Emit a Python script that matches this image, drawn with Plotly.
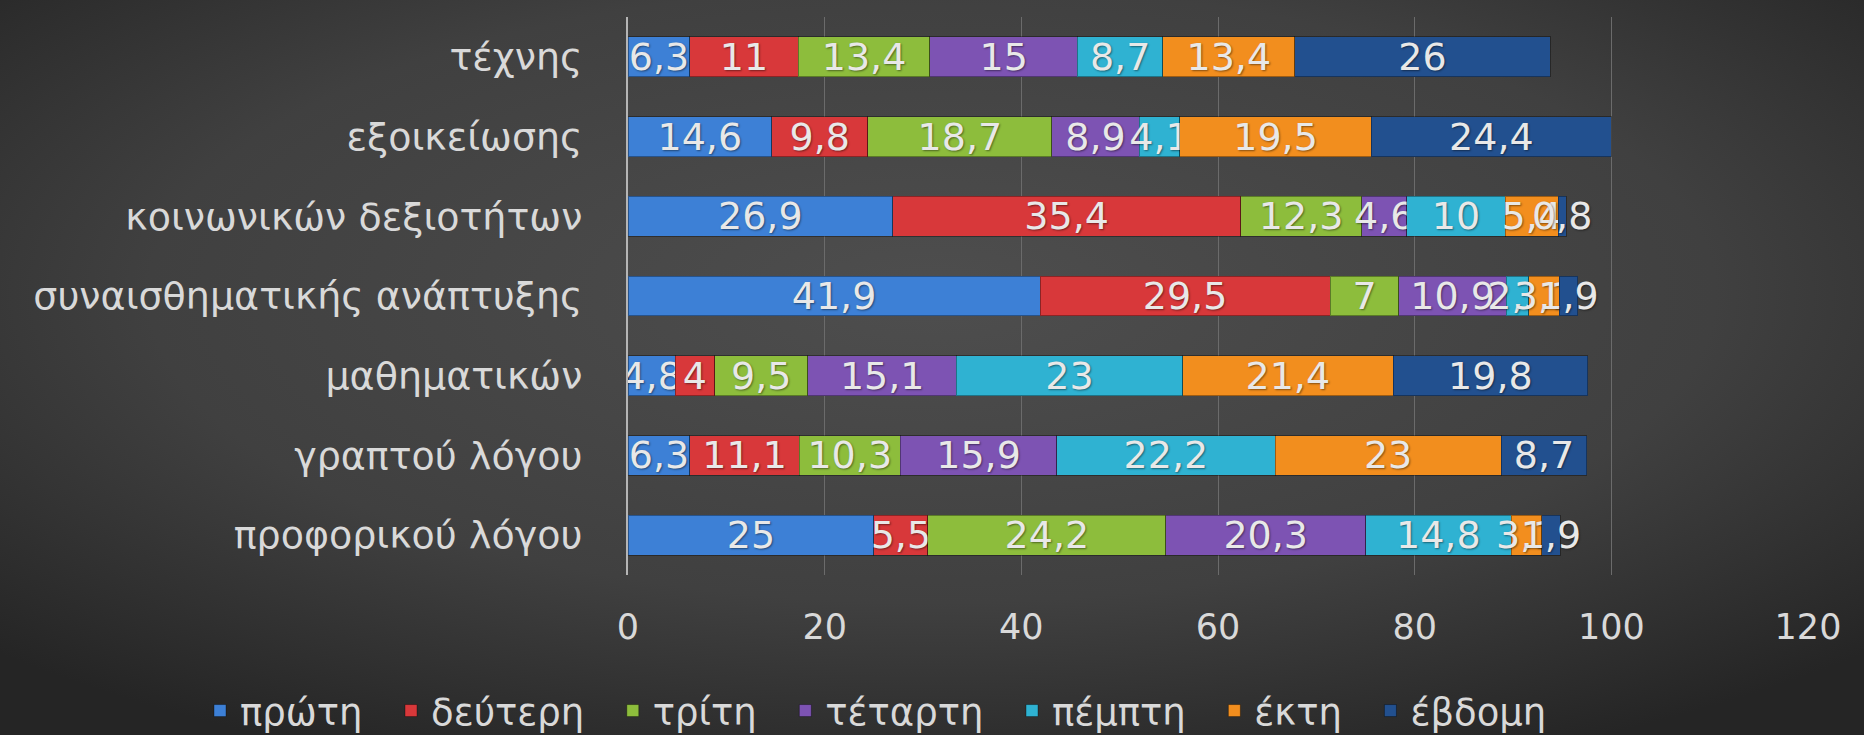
import base64
import plotly.graph_objects as go

categories = ["προφορικού λόγου", "γραπτού λόγου", "μαθηματικών",
              "συναισθηματικής ανάπτυξης", "κοινωνικών δεξιοτήτων",
              "εξοικείωσης", "τέχνης"]

series_names = ["πρώτη", "δεύτερη", "τρίτη", "τέταρτη", "πέμπτη", "έκτη", "έβδομη"]

proti = [25, 6.3, 4.8, 41.9, 26.9, 14.6, 6.3]
defteri = [5.5, 11.1, 4, 29.5, 35.4, 9.8, 11]
triti = [24.2, 10.3, 9.5, 7, 12.3, 18.7, 13.4]
tetarti = [20.3, 15.9, 15.1, 10.9, 4.6, 8.9, 15]
pempti = [14.8, 22.2, 23, 2.3, 10, 4.1, 8.7]
ekti = [3.1, 23, 21.4, 3.1, 5.4, 19.5, 13.4]
evdomi = [1.9, 8.7, 19.8, 1.9, 0.8, 24.4, 26]

values = [proti, defteri, triti, tetarti, pempti, ekti, evdomi]
colors = ["#3d80d6", "#d8383a", "#8dbd3c", "#7d53b3", "#2fb2d2", "#f28e1e", "#22508f"]

W, H = 1864, 735
L, R, T, B = 628, 56, 17, 160
PW, PH = W - L - R, H - T - B
FONT = "DejaVu Sans"
NBSP = "\u00a0"

fig = go.Figure()
for name, vals, col in zip(series_names, values, colors):
    fig.add_trace(go.Bar(
        y=categories, x=vals, name=name + NBSP * 2, orientation="h",
        marker=dict(color=col, line=dict(color="rgba(0,0,0,0.35)", width=1)),
        texttemplate="%{x}", textposition="inside", insidetextanchor="middle",
        textangle=0,
        textfont=dict(family=FONT, size=38, color="#e8e8e8",
                      shadow="1px 1px 2px rgba(0,0,0,0.45)"),
        constraintext="none",
    ))

svg = (
    f"<svg xmlns='http://www.w3.org/2000/svg' width='{W}' height='{H}' preserveAspectRatio='none'>"
    "<defs><radialGradient id='g' cx='50%' cy='40%' r='70%'>"
    "<stop offset='0' stop-color='#4e4e4e'/><stop offset='0.6' stop-color='#404040'/>"
    "<stop offset='1' stop-color='#252525'/></radialGradient></defs>"
    "<rect width='100%' height='100%' fill='url(#g)'/></svg>"
)
src = "data:image/svg+xml;base64," + base64.b64encode(svg.encode()).decode()

fig.update_layout(
    width=W, height=H,
    margin=dict(l=L, r=R, t=T, b=B, autoexpand=False),
    barmode="stack", bargap=0.5,
    separators=",.",
    paper_bgcolor="#2a2a2a", plot_bgcolor="rgba(0,0,0,0)",
    font=dict(family=FONT, color="#d9d9d9", size=34),
    uniformtext=dict(minsize=38, mode="show"),
    showlegend=True,
    legend=dict(orientation="h", traceorder="normal",
                xref="paper", yref="paper",
                x=(200 - L) / PW, xanchor="left",
                y=(T + PH - 711) / PH, yanchor="middle",
                font=dict(family=FONT, size=37, color="#d9d9d9"),
                bgcolor="rgba(0,0,0,0)", itemwidth=30),
    images=[dict(source=src, xref="paper", yref="paper",
                 x=-L / PW, y=1 + T / PH, sizex=W / PW, sizey=H / PH,
                 xanchor="left", yanchor="top", sizing="stretch", layer="below")],
    xaxis=dict(range=[0, 120], dtick=20, showgrid=True, gridcolor="#6b6b6b",
               gridwidth=1, zeroline=False, showline=False,
               tickfont=dict(family=FONT, size=35, color="#d9d9d9"), ticklabelstandoff=28),
    yaxis=dict(showline=True, linecolor="#b5b5b5", linewidth=2, showgrid=False,
               tickfont=dict(family=FONT, size=38, color="#d9d9d9"), ticklabelstandoff=36),
)

fig.write_html("out.html", config={"displayModeBar": False},
               post_script="document.body.style.margin='0';document.body.style.overflow='hidden';"
                           "document.documentElement.style.background='#262626';")
